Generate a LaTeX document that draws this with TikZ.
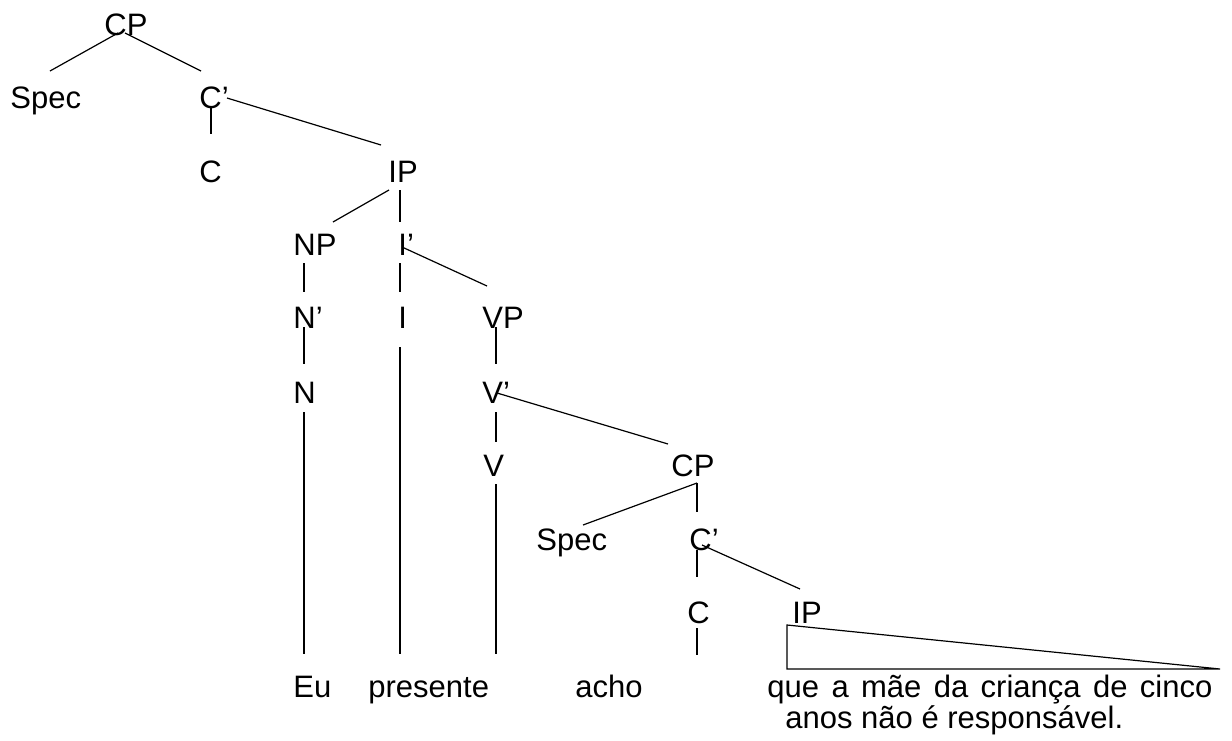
\documentclass[tikz,border=0pt]{standalone}
\usepackage{fontspec}
\setmainfont{Liberation Sans}
\begin{document}
\begin{tikzpicture}[x=0.5pt,y=-0.5pt,
  lbl/.style={anchor=base west,inner sep=0pt,font=\fontsize{15.5pt}{18pt}\selectfont},
  edge/.style={line width=0.6pt,line cap=butt}]
\useasboundingbox (0,0) rectangle (1232,740);
% labels
\node[lbl] (CPa) at (104,35) {CP};
\node[lbl] (SpecA) at (10,108) {Spec};
\node[lbl] (Cba) at (199,108) {C’};
\node[lbl] (Ca) at (199,182) {C};
\node[lbl] (IPa) at (388,182) {IP};
\node[lbl] (NP) at (293,255) {NP};
\node[lbl] (Ib) at (398,255) {I’};
\node[lbl] (Nb) at (293,328) {N’};
\node[lbl] (I) at (398,328) {I};
\node[lbl] (VP) at (482,328) {VP};
\node[lbl] (N) at (293,403) {N};
\node[lbl] (Vb) at (482,403) {V’};
\node[lbl] (V) at (483,476) {V};
\node[lbl] (CPb) at (671,476) {CP};
\node[lbl] (SpecB) at (536,550) {Spec};
\node[lbl] (Cbb) at (689,550) {C’};
\node[lbl] (Cb) at (687,623) {C};
\node[lbl] (IPb) at (792,623) {IP};
\node[lbl] (Eu) at (293,697) {Eu};
\node[lbl] (presente) at (368,697) {presente};
\node[lbl] (acho) at (575,697) {acho};
\node[lbl] (que) at (767,697) {\makebox[222.5pt][s]{que a mãe da criança de cinco}};
\node[lbl] (anos) at (785,728) {anos não é responsável.};
% connector ends
\coordinate (CPa-l) at (118,33); \coordinate (SpecA-t) at (50,71);
\coordinate (CPa-r) at (125,33); \coordinate (Cba-t) at (201,71);
\coordinate (Cba-b) at (211,108); \coordinate (Ca-t) at (211,134);
\coordinate (Cba-r) at (227,98); \coordinate (IPa-t) at (381,145);
\coordinate (IPa-l) at (389,190); \coordinate (NP-t) at (333,222);
\coordinate (IPa-b) at (400,190); \coordinate (Ib-t) at (400,222);
\coordinate (Ib-r) at (402,247); \coordinate (VP-t) at (487,286);
\coordinate (NP-b) at (304,263); \coordinate (Nb-t) at (304,292);
\coordinate (Ib-b) at (400,263); \coordinate (I-t) at (400,292);
\coordinate (Nb-b) at (304,327); \coordinate (N-t) at (304,364);
\coordinate (VP-b) at (496,327); \coordinate (Vb-t) at (496,364);
\coordinate (I-b) at (400,347); \coordinate (presente-t) at (400,654);
\coordinate (Vb-r) at (497,393); \coordinate (CPb-t) at (668,444);
\coordinate (N-b) at (304,412); \coordinate (Eu-t) at (304,654);
\coordinate (Vb-b) at (496,412); \coordinate (V-t) at (496,442);
\coordinate (V-b) at (496,484); \coordinate (acho-t) at (496,654);
\coordinate (CPb-b) at (697,483); \coordinate (SpecB-t) at (583,525);
\coordinate (Cbb-t) at (697,512);
\coordinate (Cbb-b) at (697,550); \coordinate (Cb-t) at (697,577);
\coordinate (Cbb-r) at (702,545); \coordinate (IPb-t) at (800,589);
\coordinate (Cb-b) at (697,628); \coordinate (Cb-e) at (697,655);
\coordinate (tri-a) at (787,625); \coordinate (tri-b) at (787,669); \coordinate (tri-c) at (1220,669);
% connectors
\draw[edge] (CPa-l) -- (SpecA-t);
\draw[edge] (CPa-r) -- (Cba-t);
\draw[edge] (Cba-b) -- (Ca-t);
\draw[edge] (Cba-r) -- (IPa-t);
\draw[edge] (IPa-l) -- (NP-t);
\draw[edge] (IPa-b) -- (Ib-t);
\draw[edge] (Ib-r) -- (VP-t);
\draw[edge] (NP-b) -- (Nb-t);
\draw[edge] (Ib-b) -- (I-t);
\draw[edge] (Nb-b) -- (N-t);
\draw[edge] (VP-b) -- (Vb-t);
\draw[edge] (I-b) -- (presente-t);
\draw[edge] (Vb-r) -- (CPb-t);
\draw[edge] (N-b) -- (Eu-t);
\draw[edge] (Vb-b) -- (V-t);
\draw[edge] (V-b) -- (acho-t);
\draw[edge] (CPb-b) -- (SpecB-t);
\draw[edge] (CPb-b) -- (Cbb-t);
\draw[edge] (Cbb-b) -- (Cb-t);
\draw[edge] (Cbb-r) -- (IPb-t);
\draw[edge] (Cb-b) -- (Cb-e);
\draw[edge,line join=miter] (tri-a) -- (tri-b) -- (tri-c) -- cycle;
\end{tikzpicture}
\end{document}
